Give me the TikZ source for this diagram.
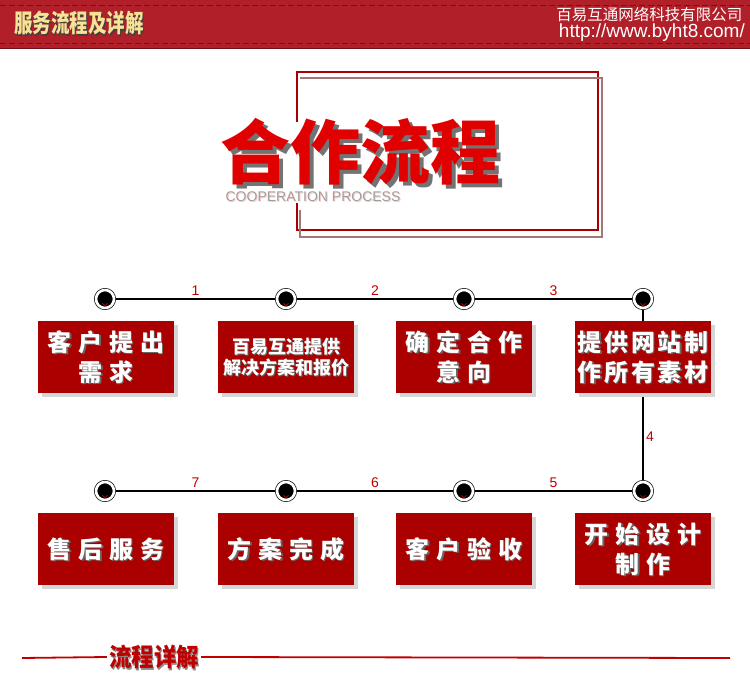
\documentclass[tikz,border=0pt]{standalone}
\usepackage{graphicx}
\usepackage{fontspec}
\setmainfont{Liberation Sans}
\newfontfamily\cjk{Noto Sans CJK SC}
\newfontfamily\boxfont{Noto Sans CJK SC}[LetterSpace=29]
\newfontfamily\boxfontn{Noto Sans CJK SC}[LetterSpace=11]
\usetikzlibrary{shadows}

\definecolor{bandred}{HTML}{B11F29}
\definecolor{dashred}{HTML}{6E1419}
\definecolor{gold}{HTML}{F7E296}
\definecolor{boxred}{HTML}{AA0000}
\definecolor{numred}{HTML}{C00000}
\definecolor{titlered}{HTML}{E10000}
\definecolor{framered}{HTML}{A80000}
\definecolor{framegray}{HTML}{A07878}
\definecolor{rulered}{HTML}{C00000}

% text with a shadow copy behind it
\newcommand\shd[3][1.5pt]{\makebox[0pt][l]{\smash{\raisebox{-#1}{\hspace{#1}\textcolor{#2}{#3}}}}#3}

\begin{document}
\begin{tikzpicture}[
    x=1pt, y=-1pt,
    box/.style={fill=boxred, text=white, minimum width=136pt, minimum height=72pt, inner sep=0pt, align=center,
        font=\boxfont\bfseries\fontsize{24}{30}\selectfont,
        drop shadow={shadow xshift=4pt, shadow yshift=-4pt, fill=black!16, opacity=1}},
    dot/.style={circle, minimum size=18pt, inner sep=0pt, fill=black, draw=black, line width=0.7pt,
        double=white, double distance=2.6pt,
        path picture={\draw[red, line width=0.5pt] ([xshift=-2.5pt,yshift=-4.3pt]path picture bounding box.center) -- ++(2.5pt,-2.4pt) -- ++(2.5pt,2.4pt);}},
    link/.style={line width=2.4pt, shorten <=2pt, shorten >=2pt},
    num/.style={text=numred, font=\fontsize{14}{14}\selectfont, inner sep=2pt},
    dashline/.style={draw=dashred, line width=0.8pt, dash pattern=on 6pt off 3pt}
]
\useasboundingbox (0,0) rectangle (750,676);

% Header band
\fill[bandred] (0,0) rectangle (750,48);
\draw[dashred, line width=1pt] (0,48.5) -- (750,48.5);
\draw[dashline] (0,5) -- (750,5);
\draw[dashline] (0,43) -- (750,43);
\node[anchor=west, text=gold, font=\cjk\bfseries\fontsize{25}{25}\selectfont, inner sep=0pt] (headtitle) at (14,23) {\scalebox{0.74}[1]{\shd{black!75}{服务流程及详解}}};
\node[anchor=east, text=white, font=\cjk\fontsize{15.5}{15.5}\selectfont] (company) at (746,15) {百易互通网络科技有限公司};
\node[anchor=east, text=white, font=\fontsize{19}{19}\selectfont, inner sep=1pt] (website) at (746,33) {http://www.byht8.com/};

% Title frame
\draw[framered, line width=1.2pt] (297,122) -- (297,72) -- (598,72) -- (598,230) -- (297,230) -- (297,203);
\draw[framegray, line width=1.2pt] (300,78) -- (602,78) -- (602,237) -- (300,237) -- (300,210);
\node[text=titlered, font=\cjk\bfseries\fontsize{70}{70}\selectfont, inner sep=0pt] (bigtitle) at (360,152) {\shd[4pt]{black!55}{合作流程}};
\node[text=black!38, font=\fontsize{14}{14}\selectfont, inner sep=0pt] (subtitle) at (313,197) {\shd[1pt]{red!20}{COOPERATION PROCESS}};

% Dots
\node[dot] (d1) at (105,299) {};
\node[dot] (d2) at (286,299) {};
\node[dot] (d3) at (464,299) {};
\node[dot] (d4) at (643,299) {};
\node[dot] (d5) at (643,491) {};
\node[dot] (d6) at (464,491) {};
\node[dot] (d7) at (286,491) {};
\node[dot] (d8) at (105,491) {};

% Timeline
\draw[link] (d1) -- node[num, above] {1} (d2);
\draw[link] (d2) -- node[num, above] {2} (d3);
\draw[link] (d3) -- node[num, above] {3} (d4);
\draw[link] (d4) -- node[num, right, pos=0.74] {4} (d5);
\draw[link] (d5) -- node[num, above] {5} (d6);
\draw[link] (d6) -- node[num, above] {6} (d7);
\draw[link] (d7) -- node[num, above] {7} (d8);

% Steps
\node[box] (s1) at (106,357) {\shd{black!60}{客户提出}\\\shd{black!60}{需求}};
\node[box, font=\cjk\bfseries\fontsize{18}{21}\selectfont] (s2) at (286,357) {\shd[1pt]{black!60}{百易互通提供}\\\shd[1pt]{black!60}{解决方案和报价}};
\node[box] (s3) at (464,357) {\shd{black!60}{确定合作}\\\shd{black!60}{意向}};
\node[box, font=\boxfontn\bfseries\fontsize{24}{30}\selectfont] (s4) at (643,357) {\shd{black!60}{提供网站制}\\\shd{black!60}{作所有素材}};
\node[box] (s5) at (643,549) {\shd{black!60}{开始设计}\\\shd{black!60}{制作}};
\node[box] (s6) at (464,549) {\shd{black!60}{客户验收}};
\node[box] (s7) at (286,549) {\shd{black!60}{方案完成}};
\node[box] (s8) at (106,549) {\shd{black!60}{售后服务}};

% Footer rule
\coordinate (rulestart) at (22,658);
\coordinate (ruleend) at (730,658);
\node[text=rulered, font=\cjk\bfseries\fontsize{25}{25}\selectfont, inner xsep=2pt, inner ysep=0pt] (foottitle) at (154,657) {\scalebox{0.9}[1]{\shd[1.5pt]{black!45}{流程详解}}};
\draw[rulered, line width=1.8pt] (rulestart) -- (foottitle.west);
\draw[rulered, line width=1.8pt] (foottitle.east) -- (ruleend);

\end{tikzpicture}
\end{document}
